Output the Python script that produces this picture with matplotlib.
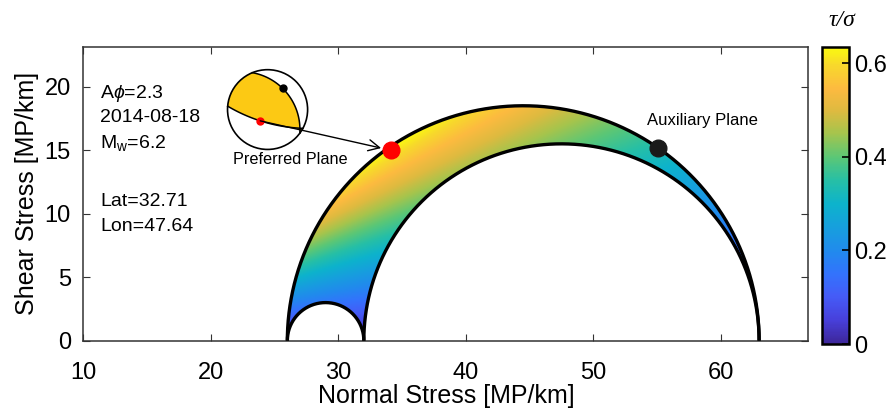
import numpy as np
import matplotlib.pyplot as plt
from matplotlib.colors import LinearSegmentedColormap
from matplotlib.patches import PathPatch, Polygon, Circle
from matplotlib.path import Path

plt.rcParams['font.family'] = ['Liberation Sans', 'DejaVu Sans']
plt.rcParams['mathtext.fontset'] = 'custom'
plt.rcParams['mathtext.rm'] = 'Liberation Sans'
plt.rcParams['mathtext.it'] = 'Liberation Sans:italic'

# principal stresses and pore pressure (MP/km)
sigma1 = 63.0
sigma2 = 32.0
sigma3 = 26.0
pore = 10.0

# nodal planes on the Mohr diagram
plane_sigma = [34.1, 55.05]
plane_tau = [15.0, 15.2]
plane_names = ['Preferred Plane', 'Auxiliary Plane']
plane_colors = ['red', '#1a1a1a']

event_info = ['A$\\phi$=2.3', '2014-08-18', 'M$_{\\rm w}$=6.2', 'Lat=32.71', 'Lon=47.64']
info_y = [19.5, 17.55, 15.6, 10.95, 9.0]

xticks = [10, 20, 30, 40, 50, 60]
yticks = [0, 5, 10, 15, 20]
cbar_ticks = [0, 0.2, 0.4, 0.6]
cbar_labels = ['0', '0.2', '0.4', '0.6']

# parula-like colour table
parula_pts = [
    (0.00, (0.24, 0.15, 0.60)),
    (0.08, (0.28, 0.25, 0.86)),
    (0.16, (0.27, 0.36, 0.97)),
    (0.235, (0.20, 0.45, 0.99)),
    (0.31, (0.13, 0.54, 0.93)),
    (0.39, (0.09, 0.62, 0.87)),
    (0.47, (0.05, 0.70, 0.80)),
    (0.55, (0.15, 0.75, 0.65)),
    (0.63, (0.36, 0.78, 0.46)),
    (0.71, (0.65, 0.77, 0.30)),
    (0.785, (0.87, 0.73, 0.25)),
    (0.86, (0.99, 0.73, 0.25)),
    (0.94, (0.97, 0.85, 0.17)),
    (1.00, (0.98, 0.98, 0.06)),
]
parula = LinearSegmentedColormap.from_list('parula', parula_pts)

fig = plt.figure(figsize=(8.93, 4.17), dpi=100)
ax = fig.add_axes([0.0933, 0.183, 0.8119, 0.705])

c1, r1 = (sigma1 + sigma3) / 2, (sigma1 - sigma3) / 2
c2, r2 = (sigma1 + sigma2) / 2, (sigma1 - sigma2) / 2
c3, r3 = (sigma2 + sigma3) / 2, (sigma2 - sigma3) / 2

t = np.linspace(0, np.pi, 400)
outer = np.column_stack([c1 + r1 * np.cos(t), r1 * np.sin(t)])
small = np.column_stack([c3 + r3 * np.cos(t[::-1]), r3 * np.sin(t[::-1])])
inner = np.column_stack([c2 + r2 * np.cos(t[::-1]), r2 * np.sin(t[::-1])])
region = np.vstack([outer, small, inner])

# friction ratio tau / (sigma - p) over the Mohr region
vmax = r1 / np.sqrt((c1 - pore) ** 2 - r1 ** 2)
gx = np.linspace(sigma3, sigma1, 700)
gy = np.linspace(0, r1, 350)
SX, SY = np.meshgrid(gx, gy)
ratio = SY / (SX - pore)

im = ax.imshow(ratio, extent=[sigma3, sigma1, 0, r1], origin='lower',
               cmap=parula, vmin=0, vmax=vmax, aspect='auto',
               interpolation='bilinear', zorder=1)
clip = PathPatch(Path(region), transform=ax.transData, facecolor='none', edgecolor='none')
ax.add_patch(clip)
im.set_clip_path(clip)

for arc in (outer, small, inner):
    ax.plot(arc[:, 0], arc[:, 1], color='black', lw=2.4, zorder=3,
            solid_capstyle='butt')

for s, tau, col in zip(plane_sigma, plane_tau, plane_colors):
    ax.plot(s, tau, 'o', color=col, ms=12, zorder=5)

ax.text(58.56, 17.3, plane_names[1], fontsize=12, ha='center', va='center')

for line, y in zip(event_info, info_y):
    ax.text(11.3, y, line, fontsize=14, ha='left', va='center')


# small stereonet of the two nodal planes
def arc3(p0, p1, p2, n=80):
    (x0, y0), (x1, y1), (x2, y2) = p0, p1, p2
    d = 2 * (x0 * (y1 - y2) + x1 * (y2 - y0) + x2 * (y0 - y1))
    ux = ((x0**2 + y0**2) * (y1 - y2) + (x1**2 + y1**2) * (y2 - y0) + (x2**2 + y2**2) * (y0 - y1)) / d
    uy = ((x0**2 + y0**2) * (x2 - x1) + (x1**2 + y1**2) * (x0 - x2) + (x2**2 + y2**2) * (x1 - x0)) / d
    r = np.hypot(x0 - ux, y0 - uy)
    a0 = np.arctan2(y0 - uy, x0 - ux)
    d1 = (np.arctan2(y1 - uy, x1 - ux) - a0) % (2 * np.pi)
    d2 = (np.arctan2(y2 - uy, x2 - ux) - a0) % (2 * np.pi)
    if d1 < d2:
        a = a0 + np.linspace(0, d2, n)
    else:
        a = a0 - np.linspace(0, 2 * np.pi - d2, n)
    return np.column_stack([ux + r * np.cos(a), uy + r * np.sin(a)])


def onto_circle(p):
    p = np.asarray(p, dtype=float)
    return p / np.hypot(*p)


net_c = (24.45, 18.2)
net_r = 3.14

low = arc3(onto_circle((-0.975, 0.083)), (-0.183, -0.283), onto_circle((0.88, -0.47)))
up = arc3(onto_circle((-0.39, 0.95)), (0.375, 0.533), onto_circle((0.805, -0.593)))


def rim(a_from, a_to, n=40):
    a = np.linspace(a_from, a_to, n)
    return np.column_stack([np.cos(a), np.sin(a)])


ang = lambda p: np.arctan2(p[1], p[0])
shade = np.vstack([rim(ang(low[0]), ang(up[0])), up,
                   rim(ang(up[-1]), ang(low[-1])), low[::-1]])


def to_data(pts):
    pts = np.asarray(pts)
    return np.column_stack([net_c[0] + net_r * pts[:, 0], net_c[1] + net_r * pts[:, 1]])


ax.add_patch(Polygon(to_data(shade), closed=True, facecolor='#fcc914',
                     edgecolor='none', zorder=6))
ax.add_patch(Circle(net_c, net_r, facecolor='none', edgecolor='black', lw=1.2, zorder=7))
for pl in (low, up):
    xy = to_data(pl)
    ax.plot(xy[:, 0], xy[:, 1], color='black', lw=1.1, zorder=7)

red_net = to_data([(-0.183, -0.283)])[0]
black_net = to_data([(0.375, 0.533)])[0]
ax.plot(*red_net, 'o', color='red', ms=5, zorder=8)
ax.plot(*black_net, 'o', color='black', ms=5, zorder=8)
ax.text(26.27, 14.23, plane_names[0], fontsize=11.7, ha='center', va='center')

ax.annotate('', xy=(plane_sigma[0], plane_tau[0]), xytext=red_net,
            arrowprops=dict(arrowstyle='->', color='black', lw=1.0,
                            shrinkA=0, shrinkB=7, mutation_scale=20),
            zorder=9)

ax.set_xlim(10, 66.86)
ax.set_ylim(0, 23.15)
ax.set_xticks(xticks)
ax.set_yticks(yticks)
ax.tick_params(direction='in', length=5, width=0.8, labelsize=17,
               top=True, right=True, colors='#333333', labelcolor='black')
ax.tick_params(axis='x', pad=15)
ax.tick_params(axis='y', pad=9)
for side in ax.spines:
    ax.spines[side].set_color('#333333')
    ax.spines[side].set_linewidth(1.1)
ax.set_xlabel('Normal Stress [MP/km]', fontsize=18, labelpad=0)
ax.set_ylabel('Shear Stress [MP/km]', fontsize=18, labelpad=4)

cax = fig.add_axes([0.9208, 0.175, 0.0299, 0.713])
cb = fig.colorbar(im, cax=cax)
cb.set_ticks(cbar_ticks)
cb.set_ticklabels(cbar_labels)
cb.outline.set_linewidth(1.8)
cax.tick_params(direction='in', length=5, width=1.2, labelsize=17, pad=4)
fig.text(0.9425, 0.952, '\u03c4/\u03c3', fontsize=17, style='italic',
         family=['Liberation Serif', 'DejaVu Serif'], ha='center', va='center')

fig.savefig('out.png', dpi=100)
